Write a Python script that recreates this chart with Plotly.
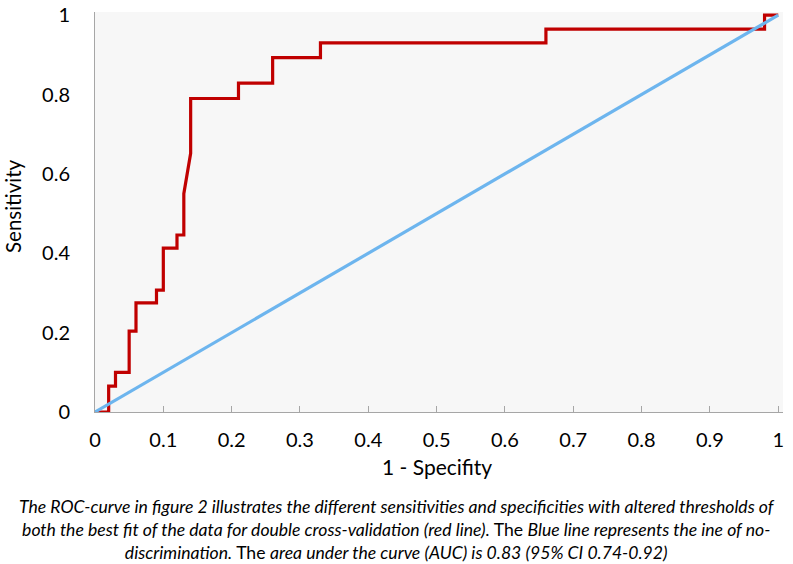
import plotly.graph_objects as go

# ROC curve points (1 - specificity, sensitivity)
roc_fpr = [0.0, 0.02, 0.02, 0.03, 0.03, 0.05, 0.05, 0.06, 0.06, 0.09, 0.09, 0.10, 0.10,
           0.12, 0.12, 0.13, 0.13, 0.14, 0.14, 0.21, 0.21, 0.26, 0.26, 0.33, 0.33,
           0.66, 0.66, 0.98, 0.98, 1.0]
roc_tpr = [0.0, 0.0, 0.065, 0.065, 0.10, 0.10, 0.204, 0.204, 0.275, 0.275, 0.307, 0.307, 0.413,
           0.413, 0.446, 0.446, 0.55, 0.652, 0.79, 0.79, 0.829, 0.829, 0.893, 0.893, 0.93,
           0.93, 0.965, 0.965, 1.0, 1.0]
ref_x = [0.0, 1.0]
ref_y = [0.0, 1.0]
tick_vals = [0, 0.1, 0.2, 0.3, 0.4, 0.5, 0.6, 0.7, 0.8, 0.9, 1]
tick_text = ["0", "0.1", "0.2", "0.3", "0.4", "0.5", "0.6", "0.7", "0.8", "0.9", "1"]
y_tick_vals = [0, 0.2, 0.4, 0.6, 0.8, 1]
y_tick_text = ["0", "0.2", "0.4", "0.6", "0.8", "1"]

FONT = "Lato"
W, H = 793, 564
ML, MR, MT, MB = 95, 10, 12, 152
PW = W - ML - MR
PH = H - MT - MB


def px_x(px):
    return (px - ML) / PW


def px_y(py):
    return (H - MB - py) / PH


fig = go.Figure()
fig.add_trace(go.Scatter(x=roc_fpr, y=roc_tpr, mode="lines",
                         line=dict(color="#c00000", width=3.2), showlegend=False,
                         cliponaxis=False))
fig.add_trace(go.Scatter(x=ref_x, y=ref_y, mode="lines",
                         line=dict(color="#6db5ee", width=3.2), showlegend=False,
                         cliponaxis=False))

caption = ("<i>The ROC-curve in figure 2 illustrates the different sensitivities and specificities with altered thresholds of</i><br>"
           "<i>both the best fit of the data for double cross-validation (red line).</i> The <i>Blue line represents the ine of no-</i><br>"
           "<i>discrimination.</i> The <i>area under the curve (AUC) is 0.83 (95% CI 0.74-0.92)</i>")

fig.update_layout(
    width=W, height=H,
    margin=dict(l=ML, r=MR, t=MT, b=MB, autoexpand=False),
    paper_bgcolor="white",
    plot_bgcolor="#f7f7f7",
    font=dict(family=FONT, color="#000000"),
    xaxis=dict(range=[0, 1.007], tickvals=tick_vals, ticktext=tick_text,
               showgrid=False, zeroline=False, showline=True, linecolor="#a6a6a6",
               linewidth=1, ticks="inside", ticklen=6, tickcolor="#a6a6a6",
               tickfont=dict(size=20, family=FONT), ticklabelstandoff=10,
               automargin=False),
    yaxis=dict(range=[0, 1.008], tickvals=y_tick_vals, ticktext=y_tick_text,
               showgrid=False, zeroline=False, showline=True, linecolor="#a6a6a6",
               linewidth=1, ticks="", tickfont=dict(size=20, family=FONT),
               ticklabelstandoff=20, automargin=False),
    annotations=[
        dict(text="1 - Specifity", xref="paper", yref="paper",
             x=px_x(437), y=px_y(466), xanchor="center", yanchor="middle",
             showarrow=False, font=dict(size=21, family=FONT)),
        dict(text="Sensitivity", textangle=-90, xref="paper", yref="paper",
             x=px_x(13), y=px_y(206), xanchor="center", yanchor="middle",
             showarrow=False, font=dict(size=20.5, family=FONT)),
        dict(text=caption, xref="paper", yref="paper",
             x=px_x(397), y=px_y(529), xanchor="center", yanchor="middle",
             showarrow=False, align="center",
             font=dict(size=17.6, family=FONT)),
    ],
)

fig.write_html("out.html", config={"displayModeBar": False},
               post_script="document.body.style.margin='0px';document.body.style.overflow='hidden';")
